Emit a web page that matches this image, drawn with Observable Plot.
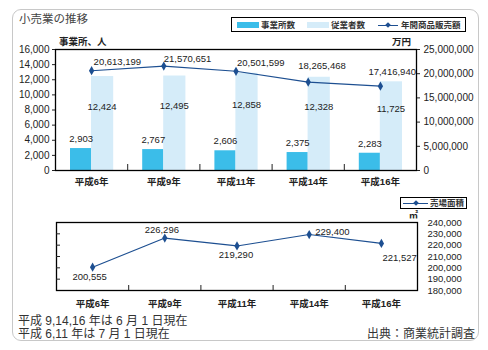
<!DOCTYPE html>
<html><head><meta charset="utf-8">
<script src="https://cdn.jsdelivr.net/npm/d3@7"></script>
<script src="https://cdn.jsdelivr.net/npm/@observablehq/plot@0.6"></script>
<style>
body{margin:0;background:#fff;}
#c{position:relative;width:488px;height:350px;font-family:"Liberation Sans","Noto Sans CJK JP",sans-serif;color:#222;overflow:hidden;}
.abs{position:absolute;white-space:nowrap;line-height:1;}
#c svg{position:absolute;left:0;}
</style></head><body><div id="c"></div>
<script>
// ---- data ----
const categories = ["平成6年","平成9年","平成11年","平成14年","平成16年"];
const establishments = [2903, 2767, 2606, 2375, 2283];          // 事業所数
const employees = [12424, 12495, 12858, 12328, 11725];          // 従業者数
const annualSales = [20613199, 21570651, 20501599, 18265468, 17416940]; // 年間商品販売額 (万円)
const salesFloor = [200555, 226296, 219290, 229400, 221527];    // 売場面積 (㎡)
const leftTicks = [0, 2000, 4000, 6000, 8000, 10000, 12000, 14000, 16000];
const rightTicks = [0, 5000000, 10000000, 15000000, 20000000, 25000000];
const floorTicks = [180000, 190000, 200000, 210000, 220000, 230000, 240000];

// ---- styling ----
const darkBar = "#3bbde9", lightBar = "#d5ecf9", lineColor = "#1d4f91";
const fmt = d3.format(",");
const idx = d3.range(categories.length);
const k = leftTicks[leftTicks.length-1] / rightTicks[rightTicks.length-1];
const salesDx = [2, 0, 1, -10, -12], salesDy = [-9, -7, -8, -16, -14];
const floorAnchor = ["middle","middle","middle","start","start"];
const floorDx = [-3, -3, -1, 6, 1], floorDy = [10, -8, 9, -3, 15];
const font = '"Liberation Sans","Noto Sans CJK JP",sans-serif';

const topPlot = Plot.plot({
  width: 488, height: 195, marginLeft: 55, marginRight: 72, marginTop: 49, marginBottom: 25,
  style: {fontFamily: font, fontSize: "10px", color: "#222", background: "none", overflow: "visible"},
  x: {type: "linear", domain: [0, 5]},
  y: {domain: [0, 16000]},
  marks: [
    Plot.rectY(idx, {x1: i => i, x2: i => i + 1, y: i => establishments[i], fill: darkBar, insetLeft: 15, insetRight: 36}),
    Plot.rectY(idx, {x1: i => i, x2: i => i + 1, y: i => employees[i], fill: lightBar, insetLeft: 36, insetRight: 14}),
    Plot.frame({stroke: "#000", strokeWidth: 1.3}),
    Plot.axisY({anchor: "left", ticks: leftTicks, tickFormat: v => fmt(v), tickSize: 3, tickPadding: 3, label: null, fontSize: 10}),
    Plot.axisY({anchor: "right", ticks: rightTicks.map(v => v * k), tickFormat: v => fmt(Math.round(v / k)), tickSize: 3, tickPadding: 4, label: null, fontSize: 10}),
    Plot.axisX({anchor: "bottom", ticks: idx.map(i => i + 0.5), tickFormat: v => categories[Math.floor(v)], tickSize: 0, tickPadding: 8, label: null, fontWeight: "bold", fontSize: 9.5}),
    Plot.axisX({anchor: "bottom", ticks: [1, 2, 3, 4], tickSize: 6, dy: -6, tickFormat: () => "", label: null}),
    Plot.line(idx, {x: i => i + 0.5, y: i => annualSales[i] * k, stroke: lineColor, strokeWidth: 1.2}),
    Plot.dot(idx, {x: i => i + 0.5, y: i => annualSales[i] * k, symbol: "diamond", fill: lineColor, r: 2.8}),
    Plot.text(idx, {x: i => i + 0.5, y: i => establishments[i], text: i => fmt(establishments[i]), dx: -10.5, dy: -9.5, fontSize: 9.5}),
    Plot.text(idx, {x: i => i + 0.5, y: i => employees[i] / 2, text: i => fmt(employees[i]), dx: 10.5, dy: -17, fontSize: 9.5}),
    ...idx.map(i => Plot.text([i], {x: i => i + 0.5, y: i => annualSales[i] * k, text: i => fmt(annualSales[i]), textAnchor: "start", dx: salesDx[i], dy: salesDy[i], fontSize: 9.5}))
  ]
});

const bottomPlot = Plot.plot({
  width: 488, height: 115, marginLeft: 56, marginRight: 71, marginTop: 22, marginBottom: 25,
  style: {fontFamily: font, fontSize: "9.5px", color: "#222", background: "none", overflow: "visible"},
  x: {type: "linear", domain: [0, 5]},
  y: {domain: [floorTicks[0], floorTicks[floorTicks.length-1]]},
  marks: [
    Plot.frame({stroke: "#000", strokeWidth: 1.3}),
    Plot.axisY({anchor: "left", ticks: floorTicks.slice(1, -1), tickSize: 4, dx: 4, tickFormat: () => "", label: null}),
    Plot.axisY({anchor: "right", ticks: floorTicks, tickSize: 0, tickPadding: 10, tickFormat: v => fmt(v), label: null, fontSize: 9.5}),
    Plot.axisX({anchor: "bottom", ticks: idx.map(i => i + 0.5), tickFormat: v => categories[Math.floor(v)], tickSize: 0, tickPadding: 10, label: null, fontWeight: "bold", fontSize: 9.5}),
    Plot.axisX({anchor: "bottom", ticks: [1, 2, 3, 4], tickSize: 5, dy: -5, tickFormat: () => "", label: null}),
    Plot.line(idx, {x: i => i + 0.5, y: i => salesFloor[i], stroke: lineColor, strokeWidth: 1.2}),
    Plot.dot(idx, {x: i => i + 0.5, y: i => salesFloor[i], symbol: "diamond", fill: lineColor, r: 2.8}),
    ...idx.map(i => Plot.text([i], {x: i => i + 0.5, y: i => salesFloor[i], text: i => fmt(salesFloor[i]), textAnchor: floorAnchor[i], dx: floorDx[i], dy: floorDy[i], fontSize: 9.5}))
  ]
});

const c = document.getElementById("c");
function add(html, css) { const d = document.createElement("div"); d.className = "abs"; d.innerHTML = html; Object.assign(d.style, css); c.appendChild(d); return d; }

add("", {left: "12px", top: "9px", width: "467px", height: "332px", border: "1.5px solid #c8c8c8", borderRadius: "9px", boxSizing: "border-box"});
topPlot.style.top = "0px"; c.appendChild(topPlot);
bottomPlot.style.top = "200px"; c.appendChild(bottomPlot);

add("小売業の推移", {left: "19px", top: "14px", fontSize: "11.5px", color: "#444"});
add("事業所、人", {left: "59px", top: "37px", fontSize: "9.5px", fontWeight: "bold"});
add("万円", {left: "392px", top: "37px", fontSize: "9.5px", fontWeight: "bold"});

// top legend
add("", {left: "231px", top: "17px", width: "235px", height: "15px", border: "1px solid #000", boxSizing: "border-box"});
add("", {left: "237px", top: "22px", width: "22px", height: "6px", background: darkBar});
add("事業所数", {left: "261px", top: "20.5px", fontSize: "8.5px", fontWeight: "bold", color: "#333"});
add("", {left: "307px", top: "22px", width: "22px", height: "6px", background: lightBar});
add("従業者数", {left: "331px", top: "20.5px", fontSize: "8.5px", fontWeight: "bold", color: "#333"});
add("", {left: "378px", top: "24.5px", width: "20px", height: "1.2px", background: lineColor});
add("", {left: "385.5px", top: "22.5px", width: "4px", height: "4px", background: lineColor, transform: "rotate(45deg)"});
add("年間商品販売額", {left: "401px", top: "20.5px", fontSize: "8.5px", fontWeight: "bold", color: "#333"});

// bottom legend
add("", {left: "400px", top: "197px", width: "67px", height: "12px", border: "1px solid #000", boxSizing: "border-box"});
add("", {left: "403px", top: "202.5px", width: "25px", height: "1.2px", background: lineColor});
add("", {left: "414px", top: "201px", width: "4px", height: "4px", background: lineColor, transform: "rotate(45deg)"});
add("売場面積", {left: "430px", top: "199px", fontSize: "8.5px", fontWeight: "bold", color: "#333"});
add("㎡", {left: "409px", top: "211px", fontSize: "9px", fontWeight: "bold"});

// notes
add("平成 9,14,16 年は 6 月 1 日現在", {left: "18px", top: "315px", fontSize: "12px", color: "#333"});
add("平成 6,11 年は 7 月 1 日現在", {left: "18px", top: "327.5px", fontSize: "12px", color: "#333"});
add("出典：商業統計調査", {left: "367px", top: "327.5px", fontSize: "12px", color: "#333"});
</script></body></html>
